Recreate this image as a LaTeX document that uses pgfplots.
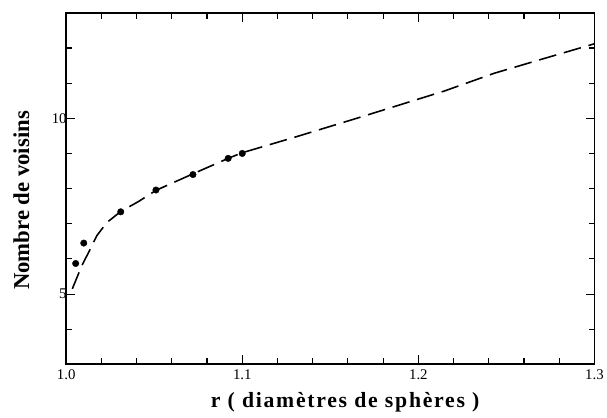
\documentclass[border=0pt]{standalone}
\usepackage{pgfplots}
\pgfplotsset{compat=1.18}
\usepackage{fontspec}
\setmainfont{Liberation Serif}
\begin{document}
\begin{tikzpicture}
\begin{axis}[
  scale only axis, width=535pt, height=356pt,
  xmin=1.0, xmax=1.3, ymin=3, ymax=13,
  xtick={1.0,1.1,1.2,1.3}, xticklabels={1.0,1.1,1.2,1.3},
  ytick={5,10},
  minor xtick={1.02,1.04,1.06,1.08,1.12,1.14,1.16,1.18,1.22,1.24,1.26,1.28},
  minor ytick={3,4,6,7,8,9,11,12,13},
  tick align=inside, tick pos=both,
  major tick length=9pt, minor tick length=6pt,
  every tick/.style={black, line width=1.1pt},
  axis line style={line width=1.8pt},
  /pgf/number format/assume math mode=true,
  tick label style={font=\fontsize{15}{17}\selectfont},
  xticklabel style={yshift=-2pt},
  yticklabel style={xshift=4pt},
  xlabel={r ( diamètres de sphères )},
  ylabel={Nombre de voisins},
  xlabel style={font=\fontsize{22}{26}\selectfont\bfseries\addfontfeatures{LetterSpace=8}, yshift=-6pt, xshift=15pt},
  ylabel style={font=\fontsize{23}{27}\selectfont\bfseries, yshift=16pt, xshift=-12pt},
  clip=false,
]
\coordinate (A) at (rel axis cs:0,0);
\coordinate (B) at (rel axis cs:1,1);
\addplot[black, line width=1.6pt, dash pattern=on 18pt off 8pt] coordinates {
(1.0035,5.15) (1.009,5.82) (1.0128,6.19) (1.0174,6.66) (1.023,7.03)
(1.031,7.35) (1.041,7.63) (1.051,7.95) (1.072,8.42) (1.092,8.86) (1.100,9.02)
(1.131,9.48) (1.165,10.0) (1.215,10.78) (1.243,11.28) (1.27,11.68) (1.3,12.12)
};
\addplot[only marks, mark=*, mark size=3.3pt, black] coordinates {
(1.0054,5.87) (1.010,6.45) (1.031,7.34) (1.051,7.96) (1.072,8.40) (1.092,8.86) (1.100,9.00)
};
\end{axis}
\path (A) ++(-67pt,-54pt) (B) ++(5pt,13pt);
\end{tikzpicture}
\end{document}
